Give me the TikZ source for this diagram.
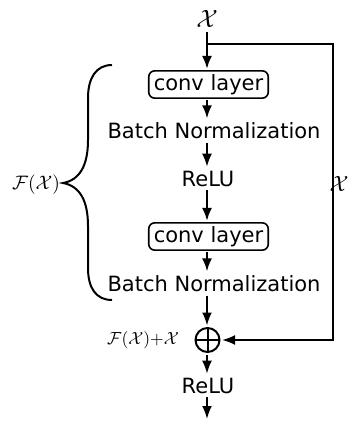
\documentclass[tikz,border=0pt]{standalone}
\usepackage{graphicx}
\usepackage{fontspec}
\setmainfont{DejaVu Sans}
\usetikzlibrary{arrows.meta}
\begin{document}
\begin{tikzpicture}[x=1pt,y=-1pt,
  line width=2pt,
  flow/.style={-{Latex[length=13pt,width=10pt]}},
  txt/.style={inner sep=0pt, outer sep=4pt, font=\fontsize{21}{25}\selectfont},
  conv/.style={draw, rounded corners=6pt, inner xsep=5pt, inner ysep=3.5pt,
    outer sep=2pt, font=\fontsize{21}{25}\selectfont, line width=1.6pt},
  sumnode/.style={draw, circle, minimum size=24pt, inner sep=0pt, outer sep=2.5pt},
  mlbl/.style={inner sep=0pt}
]
\useasboundingbox (0,0) rectangle (350,421);

% input and residual block
\node[mlbl, anchor=south] (x) at (207,28) {\scalebox{2.5}{$\mathcal{X}$}};
\node[conv] (c1) at (208.5,84.5) {conv layer};
\node[txt] (bn1) at (214,130.5) {Batch Normalization};
\node[txt] (r1) at (208,178.5) {ReLU};
\node[conv] (c2) at (208.5,236.5) {conv layer};
\node[txt] (bn2) at (214,283.5) {Batch Normalization};
\node[sumnode] (plus) at (207.5,340) {};
\draw (plus.center) ++(-12,0) -- ++(24,0);
\draw (plus.center) ++(0,-12) -- ++(0,24);
\node[mlbl] (sum) at (143,340)
  {\scalebox{1.75}{$\mathcal{F}(\mathcal{X}){+}\mathcal{X}$}};
\node[txt] (r2) at (208,385.5) {ReLU};

\coordinate (xin) at (207,32);
\coordinate (split) at (207,44);
\coordinate (ctop) at (333,44);
\coordinate (cbot) at (333,340);
\coordinate (out) at (207,419);

% main path
\draw[flow] (xin) -- (c1.north -| xin);
\draw[flow] (c1.south -| xin) -- (bn1.north -| xin);
\draw[flow] (bn1.south -| xin) -- (r1.north -| xin);
\draw[flow] (r1.south -| xin) -- (c2.north -| xin);
\draw[flow] (c2.south -| xin) -- (bn2.north -| xin);
\draw[flow] (bn2.south -| xin) -- (plus.north -| xin);
\draw[flow] (plus.south -| xin) -- (r2.north -| xin);
\draw[flow] (r2.south -| xin) -- (out);

% identity shortcut
\draw[flow] (split) -- (ctop) -- (cbot) -- (plus.east);
\node[mlbl, anchor=east] (xr) at (349.5,184) {\scalebox{2.2}{$\mathcal{X}$}};

% brace around the residual branch
\draw (112,65) .. controls (96,65) and (88,78) .. (88,98)
  -- (88,140) .. controls (88,165) and (80,180) .. (63,183)
  .. controls (80,186) and (88,201) .. (88,226)
  -- (88,268) .. controls (88,288) and (96,300) .. (112,300);
\node[mlbl, anchor=east] (fx) at (61,185) {\scalebox{1.95}{$\mathcal{F}(\mathcal{X})$}};
\end{tikzpicture}
\end{document}
